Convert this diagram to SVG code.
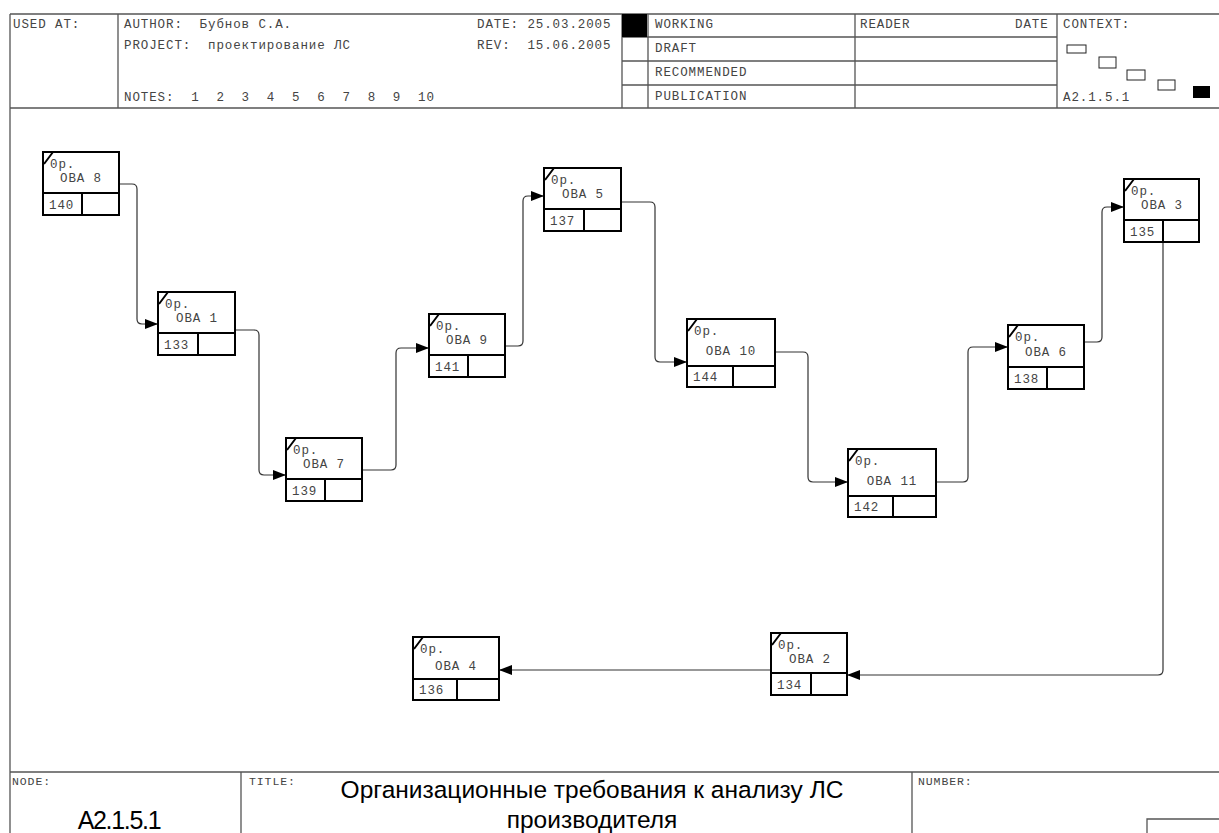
<svg xmlns="http://www.w3.org/2000/svg" width="1219" height="833" viewBox="0 0 1219 833">
<defs>
<style>
.t{font-family:"Liberation Mono","DejaVu Sans Mono",monospace;font-size:12.5px;letter-spacing:0.9px;fill:#444;white-space:pre}
.ti{font-family:"Liberation Sans",Arial,sans-serif;fill:#000}
.fl{stroke:#555;stroke-width:1.3;fill:none}
.nb{fill:#fff;stroke:#000;stroke-width:2}
.nl{stroke:#000;stroke-width:2}
.cn{fill:none;stroke:#333;stroke-width:1.2}
</style>
<marker id="ah" viewBox="0 0 13 10" refX="13" refY="5" markerWidth="13" markerHeight="10" markerUnits="userSpaceOnUse" orient="auto"><path d="M0,0 L13,5 L0,10 z" fill="#000"/></marker>
</defs>
<rect width="1219" height="833" fill="#fff"/>
<g id="frame">
<path class="fl" d="M10,14 H1219 M10,108 H1219 M10,14 V833 M10,772 H1219 M118,14 V108 M622,14 V108 M648,14 V108 M855,14 V108 M1057,14 V108 M622,37 H1057 M622,61 H1057 M622,85 H1057 M241,772 V833 M912,772 V833 M1147,833 V819 H1219"/>
<rect x="622" y="14" width="25" height="23" fill="#000"/>
<rect x="1067" y="45" width="19" height="8" fill="#fff" stroke="#222" stroke-width="1"/>
<rect x="1099" y="57" width="17" height="11" fill="#fff" stroke="#222" stroke-width="1"/>
<rect x="1127" y="70" width="18" height="10" fill="#fff" stroke="#222" stroke-width="1"/>
<rect x="1158" y="80" width="17" height="10" fill="#fff" stroke="#222" stroke-width="1"/>
<rect x="1193" y="86" width="17" height="12" fill="#000"/>
<text class="t" x="13" y="28" xml:space="preserve">USED AT:</text>
<text class="t" x="124" y="28" xml:space="preserve">AUTHOR:  Бубнов С.А.</text>
<text class="t" x="124" y="49" xml:space="preserve">PROJECT:  проектирование ЛС</text>
<text class="t" x="124" y="101" xml:space="preserve">NOTES:  1  2  3  4  5  6  7  8  9  10</text>
<text class="t" x="477" y="28" xml:space="preserve">DATE: 25.03.2005</text>
<text class="t" x="477" y="49" xml:space="preserve">REV:  15.06.2005</text>
<text class="t" x="655" y="28">WORKING</text>
<text class="t" x="655" y="52">DRAFT</text>
<text class="t" x="655" y="76">RECOMMENDED</text>
<text class="t" x="655" y="100">PUBLICATION</text>
<text class="t" x="860" y="28">READER</text>
<text class="t" x="1015" y="28">DATE</text>
<text class="t" x="1063" y="28">CONTEXT:</text>
<text class="t" x="1063" y="101">A2.1.5.1</text>
<text class="t" x="12" y="785" style="font-size:11.5px">NODE:</text>
<text class="t" x="249" y="785" style="font-size:11.5px">TITLE:</text>
<text class="t" x="918" y="785" style="font-size:11.5px">NUMBER:</text>
<text class="ti" x="119" y="829" font-size="25" text-anchor="middle" letter-spacing="-1.3">A2.1.5.1</text>
<text class="ti" x="592" y="798" font-size="24.5" text-anchor="middle">Организационные требования к анализу ЛС</text>
<text class="ti" x="592" y="828" font-size="24.5" text-anchor="middle">производителя</text>
</g>
<g id="connectors">
<path class="cn" marker-end="url(#ah)" d="M119,184 H132 Q137,184 137,189 V319 Q137,324 142,324 H158"/>
<path class="cn" marker-end="url(#ah)" d="M235,330 H254 Q259,330 259,335 V470 Q259,475 264,475 H286"/>
<path class="cn" marker-end="url(#ah)" d="M362,470 H391 Q396,470 396,465 V353 Q396,348 401,348 H429"/>
<path class="cn" marker-end="url(#ah)" d="M505,346 H518 Q523,346 523,341 V201 Q523,196 528,196 H544"/>
<path class="cn" marker-end="url(#ah)" d="M621,202 H650 Q655,202 655,207 V357 Q655,362 660,362 H687"/>
<path class="cn" marker-end="url(#ah)" d="M775,352 H803 Q808,352 808,357 V477 Q808,482 813,482 H848"/>
<path class="cn" marker-end="url(#ah)" d="M936,482 H963 Q968,482 968,477 V352 Q968,347 973,347 H1008"/>
<path class="cn" marker-end="url(#ah)" d="M1084,342 H1097 Q1102,342 1102,337 V212 Q1102,207 1107,207 H1124"/>
<path class="cn" marker-end="url(#ah)" d="M1163,242 V670 Q1163,675 1158,675 H847"/>
<path class="cn" marker-end="url(#ah)" d="M771,670 H499"/>
</g>
<g id="n-oba8">
<rect class="nb" x="43" y="152" width="76" height="63"/>
<path class="nl" d="M43,193 H119 M82,193 V215 M44,164 L53,152"/>
<text class="t" x="50" y="168">0p.</text>
<text class="t" x="81" y="182" text-anchor="middle" xml:space="preserve">OBA 8</text>
<text class="t" x="49" y="209">140</text>
</g>
<g id="n-oba1">
<rect class="nb" x="158" y="292" width="77" height="63"/>
<path class="nl" d="M158,333 H235 M198,333 V355 M159,304 L168,292"/>
<text class="t" x="165" y="308">0p.</text>
<text class="t" x="197" y="322" text-anchor="middle">OBA 1</text>
<text class="t" x="164" y="349">133</text>
</g>
<g id="n-oba7">
<rect class="nb" x="286" y="438" width="76" height="63"/>
<path class="nl" d="M286,479 H362 M325,479 V501 M287,450 L296,438"/>
<text class="t" x="293" y="454">0p.</text>
<text class="t" x="324" y="468" text-anchor="middle">OBA 7</text>
<text class="t" x="292" y="495">139</text>
</g>
<g id="n-oba9">
<rect class="nb" x="429" y="314" width="76" height="63"/>
<path class="nl" d="M429,355 H505 M468,355 V377 M430,326 L439,314"/>
<text class="t" x="436" y="330">0p.</text>
<text class="t" x="467" y="344" text-anchor="middle">OBA 9</text>
<text class="t" x="435" y="371">141</text>
</g>
<g id="n-oba5">
<rect class="nb" x="544" y="168" width="77" height="63"/>
<path class="nl" d="M544,209 H621 M584,209 V231 M545,180 L554,168"/>
<text class="t" x="551" y="184">0p.</text>
<text class="t" x="583" y="198" text-anchor="middle">OBA 5</text>
<text class="t" x="550" y="225">137</text>
</g>
<g id="n-oba10">
<rect class="nb" x="687" y="319" width="88" height="68"/>
<path class="nl" d="M687,366 H775 M733,366 V387 M688,331 L697,319"/>
<text class="t" x="694" y="335">0p.</text>
<text class="t" x="731" y="355" text-anchor="middle">OBA 10</text>
<text class="t" x="693" y="381">144</text>
</g>
<g id="n-oba11">
<rect class="nb" x="848" y="449" width="88" height="68"/>
<path class="nl" d="M848,496 H936 M893,496 V517 M849,461 L858,449"/>
<text class="t" x="855" y="465">0p.</text>
<text class="t" x="892" y="485" text-anchor="middle">OBA 11</text>
<text class="t" x="854" y="511">142</text>
</g>
<g id="n-oba6">
<rect class="nb" x="1008" y="325" width="76" height="64"/>
<path class="nl" d="M1008,367 H1084 M1047,367 V389 M1009,337 L1018,325"/>
<text class="t" x="1015" y="341">0p.</text>
<text class="t" x="1046" y="356" text-anchor="middle">OBA 6</text>
<text class="t" x="1014" y="383">138</text>
</g>
<g id="n-oba3">
<rect class="nb" x="1124" y="179" width="75" height="63"/>
<path class="nl" d="M1124,220 H1199 M1163,220 V242 M1125,191 L1134,179"/>
<text class="t" x="1131" y="195">0p.</text>
<text class="t" x="1162" y="209" text-anchor="middle">OBA 3</text>
<text class="t" x="1130" y="236">135</text>
</g>
<g id="n-oba2">
<rect class="nb" x="771" y="633" width="76" height="62"/>
<path class="nl" d="M771,673 H847 M811,673 V695 M772,645 L781,633"/>
<text class="t" x="778" y="649">0p.</text>
<text class="t" x="810" y="663" text-anchor="middle">OBA 2</text>
<text class="t" x="777" y="689">134</text>
</g>
<g id="n-oba4">
<rect class="nb" x="413" y="637" width="86" height="63"/>
<path class="nl" d="M413,679 H499 M457,679 V700 M414,649 L423,637"/>
<text class="t" x="420" y="653">0p.</text>
<text class="t" x="456" y="670" text-anchor="middle">OBA 4</text>
<text class="t" x="419" y="694">136</text>
</g>
</svg>
